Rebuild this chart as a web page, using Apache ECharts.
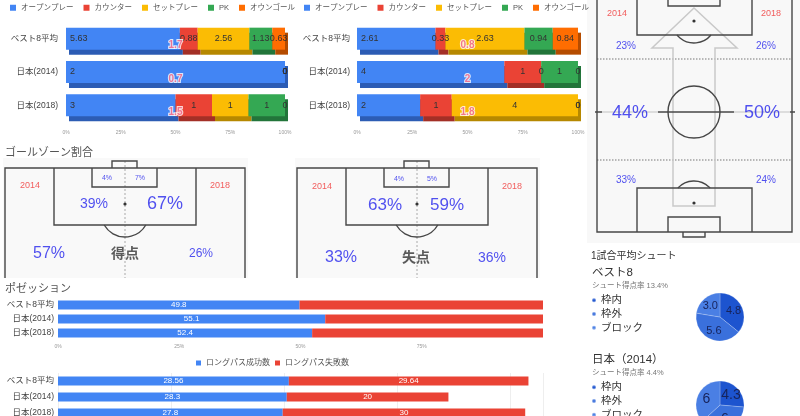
<!DOCTYPE html>
<html><head><meta charset="utf-8">
<script src="https://cdn.jsdelivr.net/npm/echarts@6/dist/echarts.min.js"></script>
<style>html,body{margin:0;padding:0;background:#fff}#c{width:800px;height:416px}</style>
</head><body><div id="c"></div>
<script>
// ---------- data ----------
const teams = ['ベスト8平均', '日本(2014)', '日本(2018)'];
const goalTypes = ['オープンプレー', 'カウンター', 'セットプレー', 'PK', 'オウンゴール'];
// goals scored by type
const scoredOpen = [5.63, 2, 3];
const scoredCounter = [0.88, 0, 1];
const scoredSet = [2.56, 0, 1];
const scoredPK = [1.13, 0, 1];
const scoredOG = [0.63, 0, 0];
const scoredPerGame = [1.7, 0.7, 1.5];
// goals conceded by type
const concededOpen = [2.61, 4, 2];
const concededCounter = [0.33, 1, 1];
const concededSet = [2.63, 0, 4];
const concededPK = [0.94, 1, 0];
const concededOG = [0.84, 0, 0];
const concededPerGame = [0.8, 2, 1.8];
// goal zone shares (goal area, penalty box, outside box)
const scoredZone2014 = [4, 39, 57];
const scoredZone2018 = [7, 67, 26];
const concededZone2014 = [4, 63, 33];
const concededZone2018 = [5, 59, 36];
// zone of play (attacking third, middle third, defensive third)
const playZone2014 = [23, 44, 33];
const playZone2018 = [26, 50, 24];
const years = ['2014', '2018'];
// possession & long passes
const possession = [49.8, 55.1, 52.4];
const longPassNames = ['ロングパス成功数', 'ロングパス失敗数'];
const longPassOk = [28.56, 28.3, 27.8];
const longPassFail = [29.64, 20, 30];
// shots per match
const shotTypes = ['枠内', '枠外', 'ブロック'];
const shotsBest8 = [4.8, 5.6, 3.0];
const shotsJapan2014 = [4.3, 6, 6];
const shotRateBest8 = '13.4%';
const shotRateJapan2014 = '4.4%';

// ---------- styles ----------
const FONT = '"Liberation Sans", "Noto Sans CJK JP", sans-serif';
const goalColors = ['#4285f4', '#ea4335', '#fbbc04', '#34a853', '#ff6d01'];
const goalShadows = ['#2c5cb4', '#a32f26', '#b68800', '#22753a', '#b54c00'];
const PCT = '#2626ec';
const YEARC = '#f03434';

function pct(v) { return v + '%'; }

function stackSeries(g, arrays, perGame) {
  const totals = teams.map((_, i) => arrays.reduce((s, a) => s + a[i], 0));
  const out = arrays.map((arr, k) => ({
    type: 'bar', name: goalTypes[k], stack: 'g' + g, xAxisIndex: g, yAxisIndex: g,
    barWidth: 22, animation: false, emphasis: { disabled: true },
    data: arr.map((v, i) => ({ value: totals[i] ? v / totals[i] * 100 : 0, raw: v })),
    itemStyle: { color: goalColors[k], shadowColor: goalShadows[k], shadowOffsetX: 3, shadowOffsetY: 5, shadowBlur: 0 },
    label: { show: true, position: k === 0 ? 'insideLeft' : 'inside', distance: 4,
      formatter: p => String(p.data.raw), fontSize: 9, color: '#333' }
  }));
  out.push({
    type: 'scatter', xAxisIndex: g, yAxisIndex: g, symbolSize: 0, z: 5, animation: false,
    data: perGame.map((v, i) => [50, i, v]),
    label: { show: true, position: 'inside', offset: [0, 7], formatter: p => String(p.value[2]),
      color: '#f0587a', fontWeight: 'bold', fontSize: 10, textBorderColor: '#fff', textBorderWidth: 2 }
  });
  return out;
}

function pitchSeries(g, shapes) {
  return {
    type: 'custom', xAxisIndex: g, yAxisIndex: g, data: [[0, 0]], clip: false, silent: true, z: 1, animation: false,
    renderItem(params, api) {
      const k = api.size([1, 0])[0];
      const P = p => api.coord(p);
      const children = shapes.map(s => {
        const st = { stroke: s.stroke || '#474747', lineWidth: s.lw || 1.4, fill: 'none', lineDash: s.dash || null };
        if (s.t === 'rect') {
          const a = P([s.x1, s.y1]), b = P([s.x2, s.y2]);
          return { type: 'rect', shape: { x: Math.min(a[0], b[0]), y: Math.min(a[1], b[1]), width: Math.abs(b[0] - a[0]), height: Math.abs(b[1] - a[1]) }, style: { fill: s.fill, stroke: null } };
        }
        if (s.t === 'poly') return { type: s.closed ? 'polygon' : 'polyline', shape: { points: s.pts.map(P) }, style: st };
        if (s.t === 'arc') {
          const c = P([s.cx, s.cy]);
          return { type: 'arc', shape: { cx: c[0], cy: c[1], r: s.r * k, startAngle: s.a0 * Math.PI / 180, endAngle: s.a1 * Math.PI / 180, clockwise: true }, style: st };
        }
        const c = P([s.cx, s.cy]);
        return { type: 'circle', shape: { cx: c[0], cy: c[1], r: s.r * k }, style: s.dot ? { fill: '#333' } : st };
      });
      return { type: 'group', children };
    }
  };
}

function labelSeries(g, items) {
  return {
    type: 'scatter', xAxisIndex: g, yAxisIndex: g, symbolSize: 0, z: 4, animation: false, silent: true,
    data: items.map(it => ({ value: it.pos, text: it.text, label: Object.assign({ fontSize: 10, color: PCT }, it.style) })),
    label: { show: true, position: 'inside', formatter: p => p.data.text }
  };
}

// half pitch geometry (pitch units)
const halfPitch = [
  { t: 'rect', x1: -2, y1: -10, x2: 243, y2: 110, fill: '#f9f9f9' },
  { t: 'poly', pts: [[120, -7], [120, 110]], stroke: '#aaa', lw: 1, dash: [2, 2] },
  { t: 'poly', pts: [[0, 110], [0, 0], [240, 0], [240, 110]] },
  { t: 'poly', pts: [[49, 0], [49, 57], [191, 57], [191, 0]] },
  { t: 'poly', pts: [[87, 0], [87, 19], [152, 19], [152, 0]] },
  { t: 'poly', pts: [[107, 0], [107, -7], [132, -7], [132, 0]] },
  { t: 'circle', cx: 120, cy: 36, r: 1.6, dot: true },
  { t: 'arc', cx: 120, cy: 45, r: 24, a0: 30, a1: 150 }
];
const fullPitch = [
  { t: 'rect', x1: -10, y1: 0, x2: 203, y2: 243, fill: '#f8f8f8' },
  { t: 'poly', pts: [[0, 59], [195, 59]], stroke: '#777', lw: 1.2, dash: [1.5, 1.5] },
  { t: 'poly', pts: [[0, 160], [195, 160]], stroke: '#777', lw: 1.2, dash: [1.5, 1.5] },
  { t: 'poly', closed: true, pts: [[76, 206], [76, 48], [55, 48], [97, 8], [140, 48], [118, 48], [118, 206]], stroke: '#c9c9c9', lw: 1.5 },
  { t: 'poly', pts: [[0, 0], [0, 232], [195, 232], [195, 0]] },
  { t: 'poly', pts: [[40, 0], [40, 35], [155, 35], [155, 0]] },
  { t: 'poly', pts: [[71, 0], [71, 6], [123, 6], [123, 0]] },
  { t: 'circle', cx: 97, cy: 21, r: 1.6, dot: true },
  { t: 'arc', cx: 97, cy: 21, r: 22, a0: 39.5, a1: 140.5 },
  { t: 'poly', pts: [[-2, 112], [198, 112]] },
  { t: 'circle', cx: 97, cy: 112, r: 26 },
  { t: 'poly', pts: [[40, 232], [40, 188], [155, 188], [155, 232]] },
  { t: 'poly', pts: [[71, 232], [71, 217], [123, 217], [123, 232]] },
  { t: 'poly', pts: [[86, 232], [86, 237], [108, 237], [108, 232]] },
  { t: 'circle', cx: 97, cy: 203, r: 1.6, dot: true },
  { t: 'arc', cx: 97, cy: 203, r: 22, a0: 223, a1: 317 }
];

const yearStyle = { fontSize: 9, color: YEARC };
const scoredLabels = [
  { pos: [25, 18], text: years[0], style: yearStyle },
  { pos: [215, 18], text: years[1], style: yearStyle },
  { pos: [102, 10], text: pct(scoredZone2014[0]), style: { fontSize: 7 } },
  { pos: [135, 10], text: pct(scoredZone2018[0]), style: { fontSize: 7 } },
  { pos: [89, 36], text: pct(scoredZone2014[1]), style: { fontSize: 14 } },
  { pos: [160, 36], text: pct(scoredZone2018[1]), style: { fontSize: 18 } },
  { pos: [44, 86], text: pct(scoredZone2014[2]), style: { fontSize: 16 } },
  { pos: [120, 86], text: '得点', style: { fontSize: 14, fontWeight: 'bold', color: '#333' } },
  { pos: [196, 86], text: pct(scoredZone2018[2]), style: { fontSize: 12 } }
];
const concededLabels = [
  { pos: [25, 19], text: years[0], style: yearStyle },
  { pos: [215, 19], text: years[1], style: yearStyle },
  { pos: [102, 11], text: pct(concededZone2014[0]), style: { fontSize: 7 } },
  { pos: [135, 11], text: pct(concededZone2018[0]), style: { fontSize: 7 } },
  { pos: [88, 37], text: pct(concededZone2014[1]), style: { fontSize: 17 } },
  { pos: [150, 37], text: pct(concededZone2018[1]), style: { fontSize: 17 } },
  { pos: [44, 90], text: pct(concededZone2014[2]), style: { fontSize: 16 } },
  { pos: [119, 90], text: '失点', style: { fontSize: 14, fontWeight: 'bold', color: '#333' } },
  { pos: [195, 90], text: pct(concededZone2018[2]), style: { fontSize: 14 } }
];
const midBg = { fontSize: 18, backgroundColor: '#f8f8f8', padding: [4, 10] };
const playLabels = [
  { pos: [20, 14], text: years[0], style: yearStyle },
  { pos: [174, 14], text: years[1], style: yearStyle },
  { pos: [29, 46], text: pct(playZone2014[0]), style: { fontSize: 10 } },
  { pos: [169, 46], text: pct(playZone2018[0]), style: { fontSize: 10 } },
  { pos: [33, 113], text: pct(playZone2014[1]), style: midBg },
  { pos: [165, 113], text: pct(playZone2018[1]), style: midBg },
  { pos: [29, 180], text: pct(playZone2014[2]), style: { fontSize: 10 } },
  { pos: [169, 180], text: pct(playZone2018[2]), style: { fontSize: 10 } }
];

const hidden = { show: false };
const catAxis = (g, margin, fs) => ({ type: 'category', gridIndex: g, data: teams, inverse: true,
  axisLine: hidden, axisTick: hidden, axisLabel: { fontSize: fs, color: '#444', margin } });

const option = {
  animation: false,
  backgroundColor: '#fff',
  textStyle: { fontFamily: FONT },
  title: [
    { text: 'ゴールゾーン割合', left: 5, top: 147, padding: 0, textStyle: { fontSize: 11, fontWeight: 'normal', color: '#555' } },
    { text: 'ポゼッション', left: 5, top: 283, padding: 0, textStyle: { fontSize: 11, fontWeight: 'normal', color: '#555' } },
    { text: '1試合平均シュート', left: 591, top: 251, padding: 0, textStyle: { fontSize: 10, fontWeight: 'normal', color: '#333' } },
    { text: 'ベスト8', left: 592, top: 267, padding: 0, textStyle: { fontSize: 11.5, fontWeight: 'normal', color: '#333' } },
    { text: 'シュート得点率 ' + shotRateBest8, left: 592, top: 282, padding: 0, textStyle: { fontSize: 7.5, fontWeight: 'normal', color: '#777' } },
    { text: '日本（2014）', left: 592, top: 354, padding: 0, textStyle: { fontSize: 11.5, fontWeight: 'normal', color: '#333' } },
    { text: 'シュート得点率 ' + shotRateJapan2014, left: 592, top: 369, padding: 0, textStyle: { fontSize: 7.5, fontWeight: 'normal', color: '#777' } }
  ],
  legend: [
    { data: goalTypes, left: 10, top: 4, padding: 0, itemWidth: 6, itemHeight: 6, itemGap: 10, icon: 'rect', textStyle: { fontSize: 7.5, color: '#555' }, selectedMode: false },
    { data: goalTypes, left: 304, top: 4, padding: 0, itemWidth: 6, itemHeight: 6, itemGap: 10, icon: 'rect', textStyle: { fontSize: 7.5, color: '#555' }, selectedMode: false },
    { data: longPassNames, left: 196, top: 359, padding: 0, itemWidth: 5, itemHeight: 5, itemGap: 5, icon: 'rect', textStyle: { fontSize: 8, color: '#555' }, selectedMode: false },
    { data: shotTypes, orient: 'vertical', left: 591, top: 295, width: 80, height: 60, padding: 0, itemWidth: 4, itemHeight: 4, itemGap: 3.3, icon: 'circle', textStyle: { fontSize: 10.5, color: '#333' }, selectedMode: false },
    { data: shotTypes, orient: 'vertical', left: 591, top: 382, width: 80, height: 60, padding: 0, itemWidth: 4, itemHeight: 4, itemGap: 3.3, icon: 'circle', textStyle: { fontSize: 10.5, color: '#333' }, selectedMode: false }
  ],
  grid: [
    { left: 66, top: 22, width: 219, height: 100, outerBoundsMode: 'none' },
    { left: 357, top: 22, width: 221, height: 100, outerBoundsMode: 'none' },
    { left: 58, top: 298, width: 485, height: 42, outerBoundsMode: 'none' },
    { left: 58, top: 373, width: 485, height: 48, outerBoundsMode: 'none' },
    { left: 3, top: 158, width: 245, height: 120, outerBoundsMode: 'none' },
    { left: 295, top: 158, width: 245, height: 120, outerBoundsMode: 'none' },
    { left: 587, top: 0, width: 213, height: 243, outerBoundsMode: 'none' }
  ],
  xAxis: [
    { type: 'value', gridIndex: 0, min: 0, max: 100, interval: 25, splitLine: hidden, axisLine: hidden, axisTick: hidden, axisLabel: { fontSize: 5, color: '#999', margin: 8, formatter: '{value}%' } },
    { type: 'value', gridIndex: 1, min: 0, max: 100, interval: 25, splitLine: hidden, axisLine: hidden, axisTick: hidden, axisLabel: { fontSize: 5, color: '#999', margin: 8, formatter: '{value}%' } },
    { type: 'value', gridIndex: 2, min: 0, max: 100, interval: 25, splitLine: hidden, axisLine: hidden, axisTick: hidden, axisLabel: { fontSize: 5, color: '#999', margin: 4, formatter: v => v === 100 ? '' : v + '%' } },
    { type: 'value', gridIndex: 3, min: 0, max: 60, interval: 14, splitLine: { show: true, lineStyle: { color: '#eee', width: 1 } }, axisLine: hidden, axisTick: hidden, axisLabel: hidden },
    { type: 'value', gridIndex: 4, min: -2, max: 243, show: false },
    { type: 'value', gridIndex: 5, min: -2, max: 243, show: false },
    { type: 'value', gridIndex: 6, min: -10, max: 203, show: false }
  ],
  yAxis: [
    catAxis(0, 8, 8.5),
    catAxis(1, 7, 8.5),
    catAxis(2, 4, 8.5),
    catAxis(3, 4, 8.5),
    { type: 'value', gridIndex: 4, min: -10, max: 110, inverse: true, show: false },
    { type: 'value', gridIndex: 5, min: -10, max: 110, inverse: true, show: false },
    { type: 'value', gridIndex: 6, min: 0, max: 243, inverse: true, show: false }
  ],
  series: [
    ...stackSeries(0, [scoredOpen, scoredCounter, scoredSet, scoredPK, scoredOG], scoredPerGame),
    ...stackSeries(1, [concededOpen, concededCounter, concededSet, concededPK, concededOG], concededPerGame),
    { type: 'bar', name: 'possession', stack: 'p', xAxisIndex: 2, yAxisIndex: 2, barWidth: 9, data: possession,
      itemStyle: { color: '#4285f4' }, label: { show: true, position: 'inside', color: '#fff', fontSize: 8 } },
    { type: 'bar', name: 'opponent', stack: 'p', xAxisIndex: 2, yAxisIndex: 2, barWidth: 9, data: possession.map(v => +(100 - v).toFixed(1)),
      itemStyle: { color: '#ea4335' } },
    { type: 'bar', name: longPassNames[0], stack: 'l', xAxisIndex: 3, yAxisIndex: 3, barWidth: 9, data: longPassOk,
      itemStyle: { color: '#4285f4' }, label: { show: true, position: 'inside', color: '#fff', fontSize: 8 } },
    { type: 'bar', name: longPassNames[1], stack: 'l', xAxisIndex: 3, yAxisIndex: 3, barWidth: 9, data: longPassFail,
      itemStyle: { color: '#ea4335' }, label: { show: true, position: 'inside', color: '#fff', fontSize: 8 } },
    pitchSeries(4, halfPitch), labelSeries(4, scoredLabels),
    pitchSeries(5, halfPitch), labelSeries(5, concededLabels),
    pitchSeries(6, fullPitch), labelSeries(6, playLabels),
    { type: 'pie', center: [720, 317], radius: 24, startAngle: 90, silent: true,
      data: shotTypes.map((n, i) => ({ name: n, value: shotsBest8[i] })),
      color: ['#1d54cf', '#3a70dc', '#4a7fe4'],
      itemStyle: { borderColor: 'rgba(255,255,255,0.35)', borderWidth: 0.6 },
      label: { show: true, position: 'inside', formatter: p => p.value.toFixed(1), fontSize: 11, color: '#17235a' }, labelLine: hidden },
    { type: 'pie', center: [720, 405], radius: 24, startAngle: 90, silent: true,
      data: shotTypes.map((n, i) => ({ name: n, value: shotsJapan2014[i] })),
      color: ['#1d54cf', '#3a70dc', '#4a7fe4'],
      itemStyle: { borderColor: 'rgba(255,255,255,0.35)', borderWidth: 0.6 },
      label: { show: true, position: 'inside', formatter: p => String(p.value), fontSize: 14, color: '#17235a' }, labelLine: hidden }
  ]
};
const chart = echarts.init(document.getElementById('c'), null, { renderer: 'canvas' });
chart.setOption(option);
</script>
</body></html>
